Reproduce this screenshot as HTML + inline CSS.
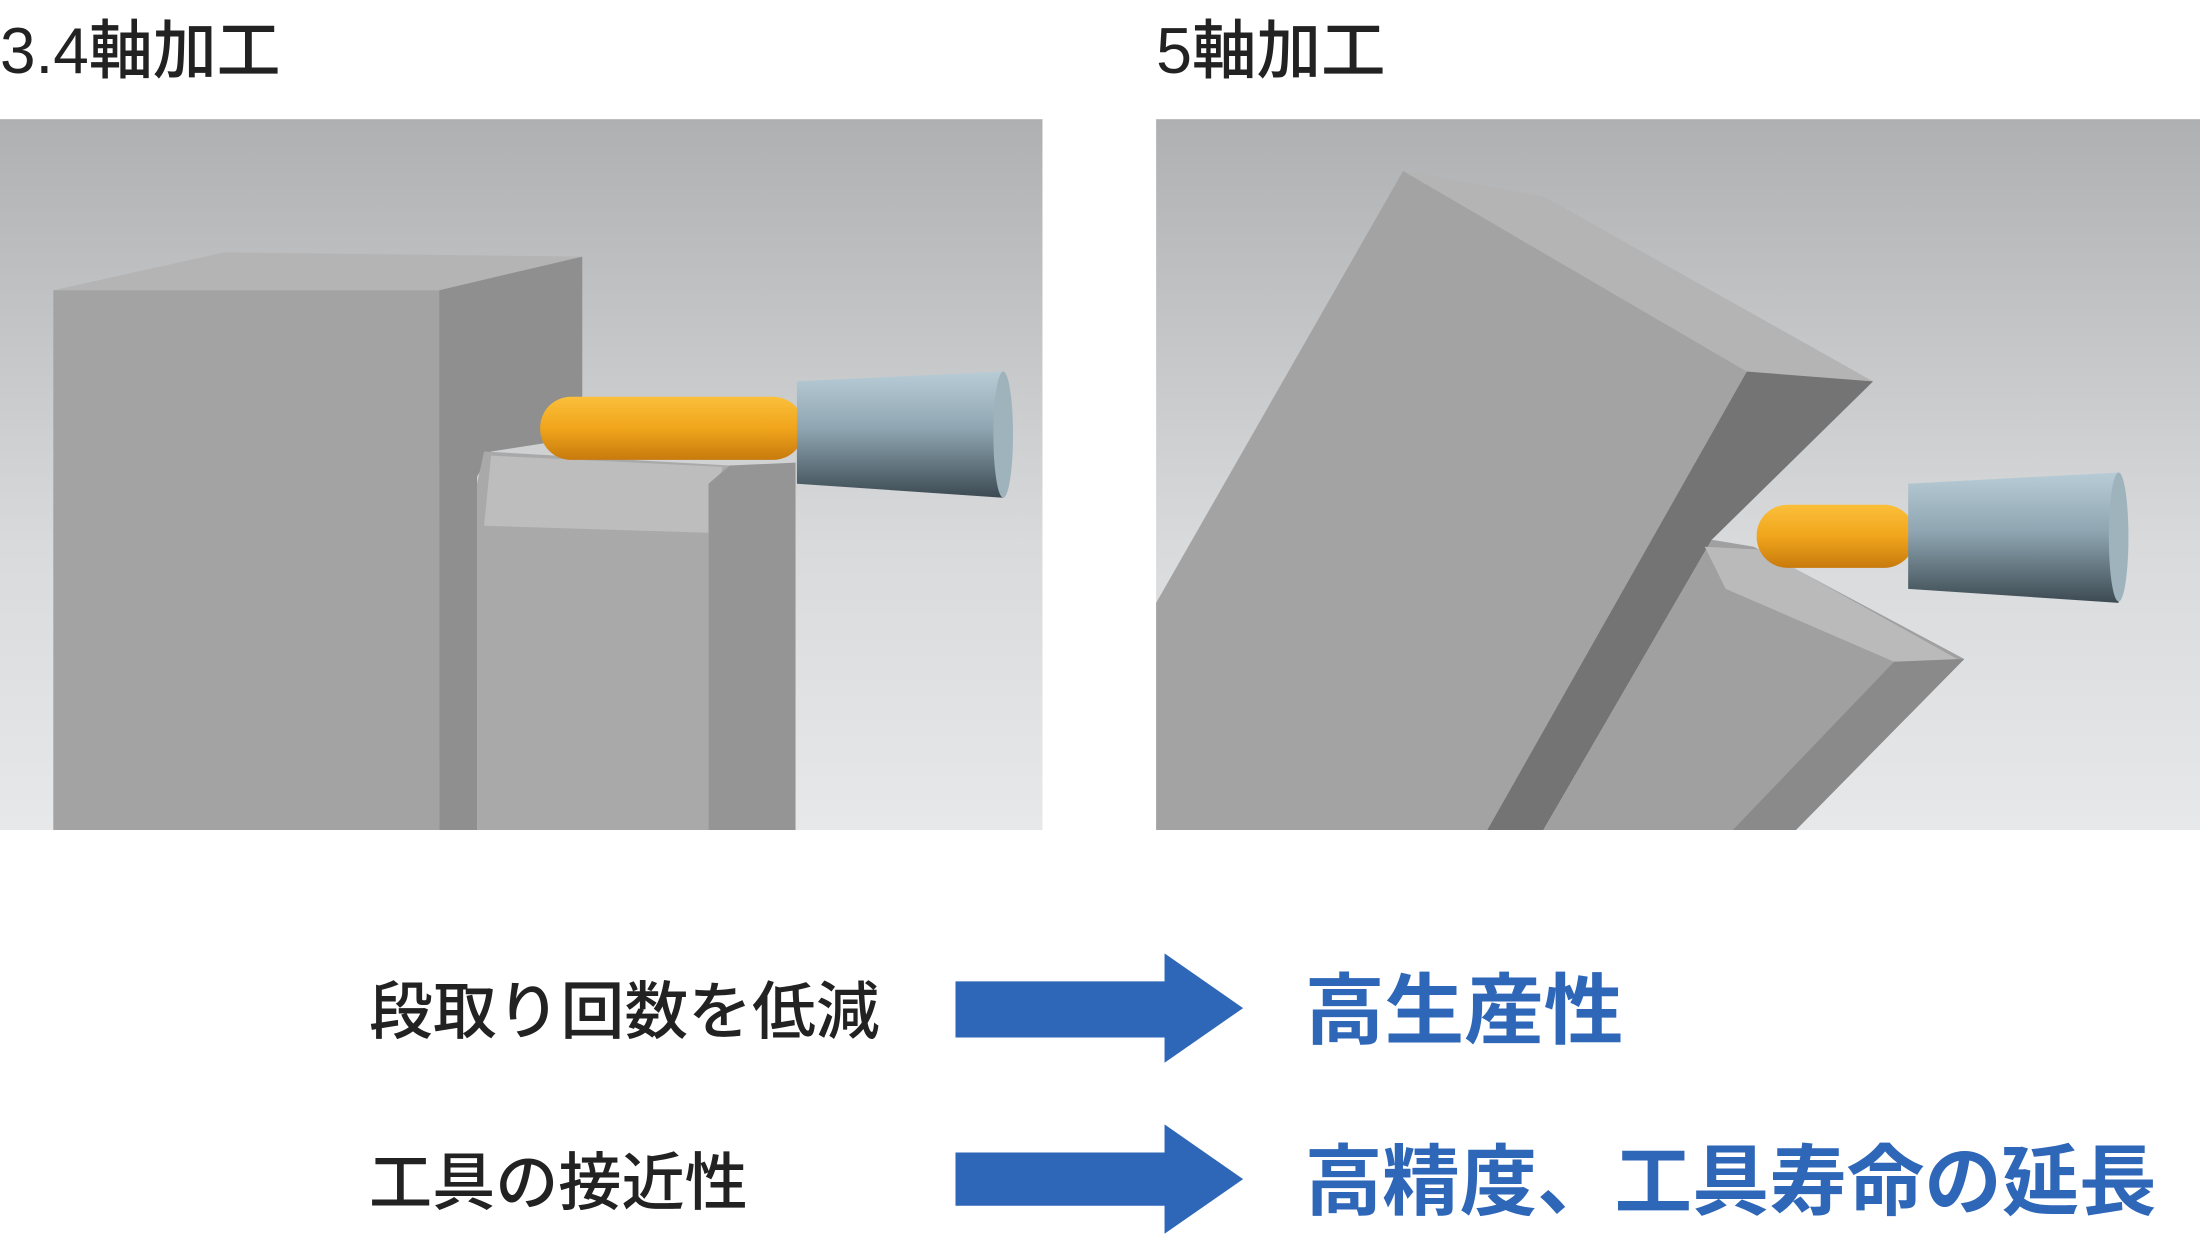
<!DOCTYPE html>
<html><head><meta charset="utf-8"><style>
html,body{margin:0;padding:0;background:#fff;}
svg{display:block;}
text{font-family:"Liberation Sans","Noto Sans CJK JP",sans-serif;}
</style></head><body>
<svg width="2200" height="1238" viewBox="0 0 1568 883" preserveAspectRatio="none" xmlns="http://www.w3.org/2000/svg">
<defs>
<linearGradient id="bg" x1="0" y1="0" x2="0" y2="1"><stop offset="0" stop-color="#aeb0b2"/><stop offset="0.6" stop-color="#d8dadc"/><stop offset="1" stop-color="#e6e8ea"/></linearGradient>
<linearGradient id="or" x1="0" y1="0" x2="0" y2="1"><stop offset="0" stop-color="#fbbf3a"/><stop offset="0.5" stop-color="#f0a51c"/><stop offset="1" stop-color="#c87a0c"/></linearGradient>
<linearGradient id="hd" x1="0" y1="0" x2="0" y2="1"><stop offset="0" stop-color="#b8ccd6"/><stop offset="0.45" stop-color="#8fa6b2"/><stop offset="1" stop-color="#3c4a52"/></linearGradient>
</defs>
<rect width="1568" height="883" fill="#fff"/>
<text x="0" y="52" font-size="46" font-weight="500" fill="#222" textLength="200" lengthAdjust="spacingAndGlyphs">3.4軸加工</text>
<text x="824" y="52" font-size="46" font-weight="500" fill="#222">5軸加工</text>

<!-- left panel -->
<rect x="0" y="85" width="743" height="507" fill="url(#bg)"/>
<polygon points="38,207 160,180 415,183 313,207" fill="#b4b4b4"/>
<polygon points="38,207 313,207 313,592 38,592" fill="#a3a3a3"/>
<polygon points="313,207 415,183 415,312 350,322 340,340 340,592 313,592" fill="#8f8f8f"/>
<polygon points="345,322 520,332 505,345 505,592 340,592 340,345" fill="#a9a9a9"/>
<polygon points="350,325 515,333 505,380 345,375" fill="#bdbdbd"/>
<polygon points="505,345 520,332 567,330 567,592 505,592" fill="#959595"/>
<rect x="385" y="283" width="188" height="45" rx="22" fill="url(#or)"/>
<polygon points="568,272 715,265 715,355 568,345" fill="url(#hd)"/>
<ellipse cx="715" cy="310" rx="7" ry="45" fill="#9fb3bd"/>

<!-- right panel -->
<rect x="824" y="85" width="744" height="507" fill="url(#bg)"/>
<polygon points="1000,122 1100,140 1335,272 1245,265" fill="#b4b4b4"/>
<polygon points="824,430 1000,122 1245,265 1060,592 824,592" fill="#a3a3a3"/>
<polygon points="1245,265 1335,272 1220,385 1100,592 1060,592" fill="#747474"/>
<polygon points="1220,385 1250,390 1400,470 1280,592 1100,592" fill="#a0a0a0"/>
<polygon points="1215,390 1255,392 1395,470 1350,472 1230,420" fill="#bababa"/>
<polygon points="1350,472 1400,470 1280,592 1235,592" fill="#8a8a8a"/>
<rect x="1252" y="360" width="113" height="45" rx="22" fill="url(#or)"/>
<polygon points="1360,345 1510,337 1510,430 1360,420" fill="url(#hd)"/>
<ellipse cx="1510" cy="383" rx="7" ry="46" fill="#9fb3bd"/>

<!-- bottom -->
<text x="263" y="737" font-size="45" font-weight="500" fill="#222" textLength="364" lengthAdjust="spacingAndGlyphs">段取り回数を低減</text>
<polygon points="681,700 830,700 830,680 886,719 830,758 830,740 681,740" fill="#2e66b8"/>
<text x="930" y="740" font-size="55" font-weight="bold" fill="#2e66b8" textLength="227" lengthAdjust="spacingAndGlyphs">高生産性</text>
<text x="263" y="859" font-size="45" font-weight="500" fill="#222">工具の接近性</text>
<polygon points="681,822 830,822 830,802 886,841 830,880 830,860 681,860" fill="#2e66b8"/>
<text x="930" y="862" font-size="55" font-weight="bold" fill="#2e66b8" textLength="607" lengthAdjust="spacingAndGlyphs">高精度、工具寿命の延長</text>
</svg>
</body></html>
